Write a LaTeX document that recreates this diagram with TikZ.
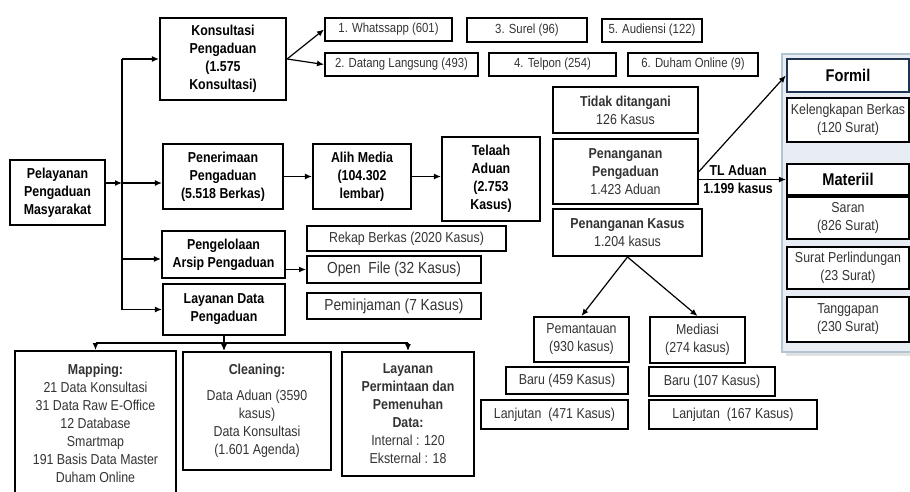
\documentclass[tikz,border=0pt]{standalone}
\usepackage{fontspec}
\setmainfont{Liberation Sans}[FakeStretch=0.86]
\usetikzlibrary{arrows.meta, positioning, calc}

\definecolor{panelfill}{HTML}{E7EDF2}
\definecolor{panelline}{HTML}{B3C4D3}
\definecolor{formilline}{HTML}{1F3354}
\definecolor{teks}{HTML}{333333}

\tikzset{
  mainbox/.style={draw, line width=1.1pt, align=center, inner sep=1pt,
    font=\fontsize{7.2}{9}\selectfont\bfseries},
  subbox/.style={draw, line width=1pt, align=center, inner sep=1pt, text=teks,
    font=\fontsize{7.2}{9}\selectfont},
  tagbox/.style={subbox, font=\fontsize{6.6}{8}\selectfont},
  whitebox/.style={subbox, fill=white},
  link/.style={line width=0.6pt},
}

\begin{document}
\begin{tikzpicture}[x=0.5pt, y=-0.5pt, >={Latex[length=3.5pt,width=3pt]}]
    \useasboundingbox (0,0) rectangle (910,492);

    % Kolom kiri
    \node[mainbox, minimum width=47.5pt, minimum height=32.5pt] (pel) at (57.5,192.5) {Pelayanan\\Pengaduan\\Masyarakat};
    \node[mainbox, minimum width=63pt, minimum height=41pt] (kons) at (223,59) {Konsultasi\\Pengaduan\\(1.575\\Konsultasi)};
    \node[mainbox, minimum width=60pt, minimum height=32.5pt] (pen) at (223,176.5) {Penerimaan\\Pengaduan\\(5.518 Berkas)};
    \node[mainbox, minimum width=61.5pt, minimum height=23.5pt] (arsip) at (223.5,254.5) {Pengelolaan\\Arsip Pengaduan};
    \node[mainbox, minimum width=61pt, minimum height=25.5pt] (ldata) at (224,309.5) {Layanan Data\\Pengaduan};

    % Jalur konsultasi
    \node[tagbox, minimum width=63.5pt, minimum height=11.5pt] (wa) at (388.5,29.5) {1. Whatssapp (601)};
    \node[tagbox, minimum width=60pt, minimum height=12pt] (surel) at (527,30) {3. Surel (96)};
    \node[tagbox, minimum width=50pt, minimum height=11.5pt] (aud) at (652,30.5) {5. Audiensi (122)};
    \node[tagbox, minimum width=76.5pt, minimum height=11.5pt] (datang) at (401.5,64.5) {2. Datang Langsung (493)};
    \node[tagbox, minimum width=63.5pt, minimum height=11.5pt] (telp) at (552.5,64.5) {4. Telpon (254)};
    \node[tagbox, minimum width=65pt, minimum height=11.5pt] (duham) at (693,64.5) {6. Duham Online (9)};

    % Jalur penerimaan
    \node[mainbox, minimum width=49pt, minimum height=32.5pt] (alih) at (362,176.5) {Alih Media\\(104.302\\lembar)};
    \node[mainbox, minimum width=49pt, minimum height=42pt] (telaah) at (491,179) {Telaah\\Aduan\\(2.753\\Kasus)};
    \node[subbox, minimum width=72.5pt, minimum height=23pt] (tidak) at (625.5,110) {\textbf{Tidak ditangani}\\126 Kasus};
    \node[subbox, minimum width=72.5pt, minimum height=32.5pt] (ppeng) at (625.5,171.5) {\textbf{Penanganan}\\\textbf{Pengaduan}\\1.423 Aduan};
    \node[subbox, minimum width=74.5pt, minimum height=23.5pt] (pkasus) at (627.5,232.5) {\textbf{Penanganan Kasus}\\1.204 kasus};
    \node[subbox, minimum width=47.5pt, minimum height=22.5pt] (pemant) at (581.5,339.5) {Pemantauan\\(930 kasus)};
    \node[subbox, minimum width=47.5pt, minimum height=23pt] (med) at (697.5,340) {Mediasi\\(274 kasus)};
    \node[subbox, minimum width=61pt, minimum height=13.5pt] (baru1) at (567,380.5) {Baru (459 Kasus)};
    \node[subbox, minimum width=73.5pt, minimum height=14.5pt] (lanj1) at (554.5,414.5) {Lanjutan~ (471 Kasus)};
    \node[subbox, minimum width=63pt, minimum height=14.5pt] (baru2) at (712,381.5) {Baru (107 Kasus)};
    \node[subbox, minimum width=84pt, minimum height=14.5pt] (lanj2) at (733,414.5) {Lanjutan~ (167 Kasus)};

    % Arsip
    \node[subbox, minimum width=99.5pt, minimum height=12.5pt] (rekap) at (406.5,238.5) {Rekap Berkas (2020 Kasus)};
    \node[subbox, minimum width=87pt, minimum height=13.5pt, font=\fontsize{8}{9}\selectfont] (openf) at (394,269.5) {Open~ File (32 Kasus)};
    \node[subbox, minimum width=87pt, minimum height=13pt, font=\fontsize{8}{9}\selectfont] (pinjam) at (394,306) {Peminjaman (7 Kasus)};

    % Layanan data
    \node[subbox, minimum width=80.5pt, minimum height=72pt] (mapping) at (95.5,423) {\textbf{Mapping:}\\21 Data Konsultasi\\31 Data Raw E-Office\\12 Database\\Smartmap\\191 Basis Data Master\\Duham Online};
    \node[subbox, minimum width=74pt, minimum height=59pt] (cleaning) at (257,411) {\textbf{Cleaning:}\\[4pt]Data Aduan (3590\\kasus)\\Data Konsultasi\\(1.601 Agenda)};
    \node[subbox, minimum width=66pt, minimum height=62pt] (lpermin) at (408,414) {\textbf{Layanan}\\\textbf{Permintaan dan}\\\textbf{Pemenuhan}\\\textbf{Data:}\\Internal : 120\\Eksternal : 18};

    % Panel tindak lanjut
    \fill[black!12] (786,352) rectangle (915,356);
    \draw[draw=panelline, fill=panelfill, line width=1pt] (782,54) rectangle (915,352);
    \node[mainbox, fill=white, draw=formilline, line width=1.2pt, minimum width=61pt, minimum height=16.5pt, font=\fontsize{8.5}{10}\selectfont\bfseries] (formil) at (848,75.5) {Formil};
    \node[whitebox, minimum width=61pt, minimum height=22pt] (kel) at (848,120) {Kelengkapan Berkas\\(120 Surat)};
    \node[mainbox, fill=white, minimum width=61pt, minimum height=15.5pt, font=\fontsize{8.5}{10}\selectfont\bfseries] (materiil) at (848,179.5) {Materiil};
    \node[whitebox, minimum width=61pt, minimum height=21pt] (saran) at (848,218) {Saran\\(826 Surat)};
    \node[whitebox, minimum width=61pt, minimum height=21pt] (surat) at (848,268) {Surat Perlindungan\\(23 Surat)};
    \node[whitebox, minimum width=61pt, minimum height=22.5pt] (tangg) at (848,319.5) {Tanggapan\\(230 Surat)};

    % Garis penghubung
    \coordinate (t0) at (122,59);
    \coordinate (t1) at (122,183);
    \coordinate (t2) at (122,259);
    \coordinate (t3) at (122,309.5);
    \draw[link] (t0) -- (t3);
    \draw[link, ->] (pel.east |- t1) -- (t1);
    \draw[link, ->] (t0) -- (kons.west);
    \draw[link, ->] (t1) -- (pen.west |- t1);
    \draw[link, ->] (t2) -- (arsip.west |- t2);
    \draw[link, ->] (t3) -- (ldata.west);

    \draw[link, ->] (kons.east) -- (wa.west);
    \draw[link, ->] (kons.east) -- (datang.west);
    \draw[link, ->] (pen.east) -- (alih.west);
    \draw[link, ->] (alih.east) -- (alih.east -| telaah.west);
    \draw[link, ->] (arsip.east |- openf) -- (openf.west);

    \draw[link, ->] (ppeng.east) -- (formil.west);
    \draw[link, ->] (ppeng.east |- materiil) -- node[pos=0.45, above, inner sep=1.5pt, font=\fontsize{7.2}{9}\selectfont\bfseries] (tl) {TL Aduan}
        node[pos=0.45, below, inner sep=1.5pt, font=\fontsize{7.2}{9}\selectfont\bfseries] (tljml) {1.199 kasus} (materiil.west);

    \draw[link, ->] (pkasus.south) -- (pemant.north);
    \draw[link, ->] (pkasus.south) -- (med.north);

    \coordinate (b0) at (224,343);
    \draw[link] (ldata.south) -- (b0);
    \draw[link] (mapping.north |- b0) -- (lpermin.north |- b0);
    \draw[link, ->] (mapping.north |- b0) -- (mapping.north);
    \draw[link, ->] (b0) -- (b0 |- cleaning.north);
    \draw[link, ->] (lpermin.north |- b0) -- (lpermin.north);
\end{tikzpicture}
\end{document}
